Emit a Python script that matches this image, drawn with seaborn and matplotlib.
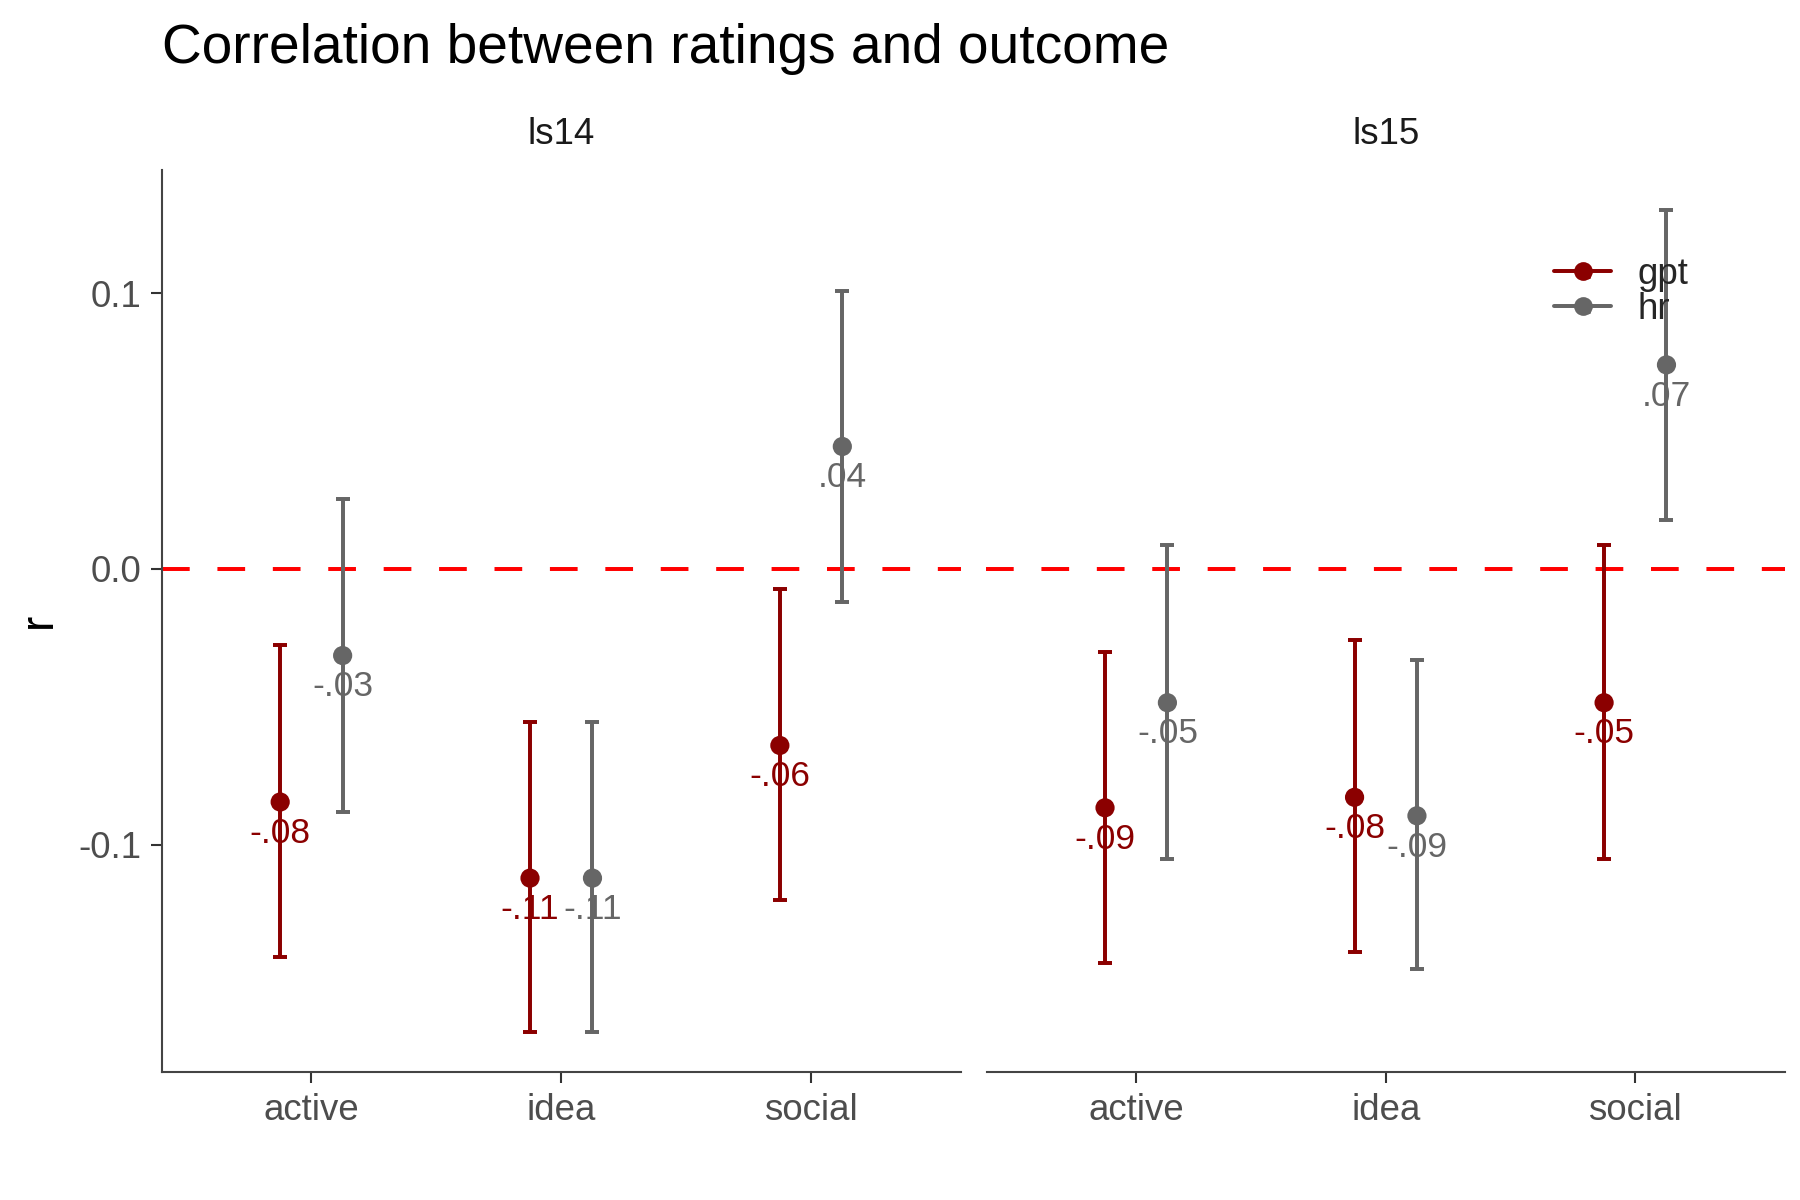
import numpy as np
import pandas as pd
import matplotlib
matplotlib.use("Agg")
import matplotlib.pyplot as plt
from matplotlib.lines import Line2D
from matplotlib.legend_handler import HandlerTuple
import seaborn as sns

# ---------------- data ----------------
waves = ["ls14", "ls15"]
categories = ["active", "idea", "social"]
raters = ["gpt", "hr"]

ls14_gpt_r = [-0.0845, -0.1121, -0.0640]
ls14_gpt_lo = [-0.1406, -0.1678, -0.1201]
ls14_gpt_hi = [-0.0276, -0.0556, -0.0071]
ls14_hr_r = [-0.0314, -0.1121, 0.0444]
ls14_hr_lo = [-0.0883, -0.1678, -0.0121]
ls14_hr_hi = [0.0255, -0.0556, 0.1008]

ls15_gpt_r = [-0.0866, -0.0828, -0.0485]
ls15_gpt_lo = [-0.1427, -0.1390, -0.1050]
ls15_gpt_hi = [-0.0301, -0.0259, 0.0088]
ls15_hr_r = [-0.0485, -0.0895, 0.0740]
ls15_hr_lo = [-0.1050, -0.1450, 0.0176]
ls15_hr_hi = [0.0088, -0.0330, 0.1300]

y_ticks = [-0.1, 0.0, 0.1]
title = "Correlation between ratings and outcome"

series = {
    ("ls14", "gpt"): (ls14_gpt_r, ls14_gpt_lo, ls14_gpt_hi),
    ("ls14", "hr"): (ls14_hr_r, ls14_hr_lo, ls14_hr_hi),
    ("ls15", "gpt"): (ls15_gpt_r, ls15_gpt_lo, ls15_gpt_hi),
    ("ls15", "hr"): (ls15_hr_r, ls15_hr_lo, ls15_hr_hi),
}

rows = []
for (w, rt), (rv, lo, hi) in series.items():
    for i, c in enumerate(categories):
        rows.append(dict(wave=w, rater=rt, cat=c, ci=i, r=rv[i], lo=lo[i], hi=hi[i]))
df = pd.DataFrame(rows)

def fmt(v):
    s = f"{v:.2f}"
    return s.replace("0.", ".", 1)

df["label"] = df["r"].apply(fmt)
dodge = {"gpt": -0.125, "hr": 0.125}
df["x"] = df["ci"] + df["rater"].map(dodge)

palette = {"gpt": "#8B0000", "hr": "#666666"}

# ---------------- style ----------------
sns.set_theme(style="ticks")
plt.rcParams["font.family"] = ["Liberation Sans", "DejaVu Sans"]

fig = plt.figure(figsize=(12, 8), dpi=150)
W, H = 1800, 1200
left1, right1 = 161.5, 961
left2, right2 = 986.5, 1785
top, bottom = 169.6, 1072
ax1 = fig.add_axes([left1 / W, 1 - bottom / H, (right1 - left1) / W, (bottom - top) / H])
ax2 = fig.add_axes([left2 / W, 1 - bottom / H, (right2 - left2) / W, (bottom - top) / H], sharey=ax1)

ylim = (-0.1824, 0.1448)
axis_col = "#444444"
tick_col = "#4D4D4D"

for ax, w in zip([ax1, ax2], waves):
    sub = df[df["wave"] == w]
    ax.axhline(0, color="#FF0000", lw=1.9, ls=(0, (7, 7)), zorder=1)
    for rt in raters:
        s = sub[sub["rater"] == rt]
        ax.errorbar(s["x"], s["r"], yerr=[s["r"] - s["lo"], s["hi"] - s["r"]],
                    fmt="none", ecolor=palette[rt], elinewidth=1.9, capsize=3.3,
                    capthick=1.9, zorder=2)
    sns.scatterplot(data=sub, x="x", y="r", hue="rater", palette=palette,
                    s=85, edgecolor="none", linewidth=0, legend=False, ax=ax, zorder=3)
    for _, row in sub.iterrows():
        ax.annotate(row["label"], (row["x"], row["r"]), xytext=(0, -15),
                    textcoords="offset points", ha="center", va="center",
                    fontsize=17, color=palette[row["rater"]], zorder=4)
    ax.set_xlim(-0.6, 2.6)
    ax.set_ylim(*ylim)
    ax.set_xticks(range(len(categories)))
    ax.set_xticklabels(categories)
    ax.set_xlabel("")
    ax.set_ylabel("")
    ax.tick_params(axis="x", length=5.5, width=1.0, color="#333333",
                   labelsize=17.6, labelcolor=tick_col, pad=4.4)
    ax.tick_params(axis="y", length=5.5, width=1.0, color="#333333",
                   labelsize=17.6, labelcolor=tick_col, pad=4.4)
    for sp in ["top", "right"]:
        ax.spines[sp].set_visible(False)
    ax.spines["bottom"].set_color(axis_col)
    ax.spines["bottom"].set_linewidth(1.0)
    ax.spines["left"].set_color(axis_col)
    ax.spines["left"].set_linewidth(1.0)
    # facet strip label
    ax.annotate(w, (0.5, 1.0), xycoords="axes fraction", xytext=(0, 16.8),
                textcoords="offset points", ha="center", va="center",
                fontsize=17.6, color="#1A1A1A")

ax1.set_yticks(y_ticks)
ax1.set_yticklabels([f"{t:.1f}" for t in y_ticks])
ax2.spines["left"].set_visible(False)
ax2.tick_params(axis="y", left=False, labelleft=False)
ax1.set_ylabel("r", fontsize=22, color="black", labelpad=8)

fig.text(left1 / W, 1 - 63 / H, title, fontsize=26.4, color="black",
         ha="left", va="baseline")

# legend
handles = []
for rt in raters:
    ln = Line2D([], [], color=palette[rt], lw=1.9, marker="o", markersize=9,
                markeredgewidth=0)
    a = Line2D([], [], color=palette[rt], lw=0, marker=r"$\mathregular{a}$",
               markersize=6.5)
    handles.append((ln, a))
ax2.legend(handles, raters, handler_map={tuple: HandlerTuple(ndivide=1)},
           loc="center left", bbox_to_anchor=(0.711, 0.864), frameon=False,
           fontsize=17.6, handlelength=1.55, handletextpad=0.72,
           labelspacing=0.0, borderpad=0, borderaxespad=0)

fig.savefig("out.png", dpi=150, facecolor="white")
